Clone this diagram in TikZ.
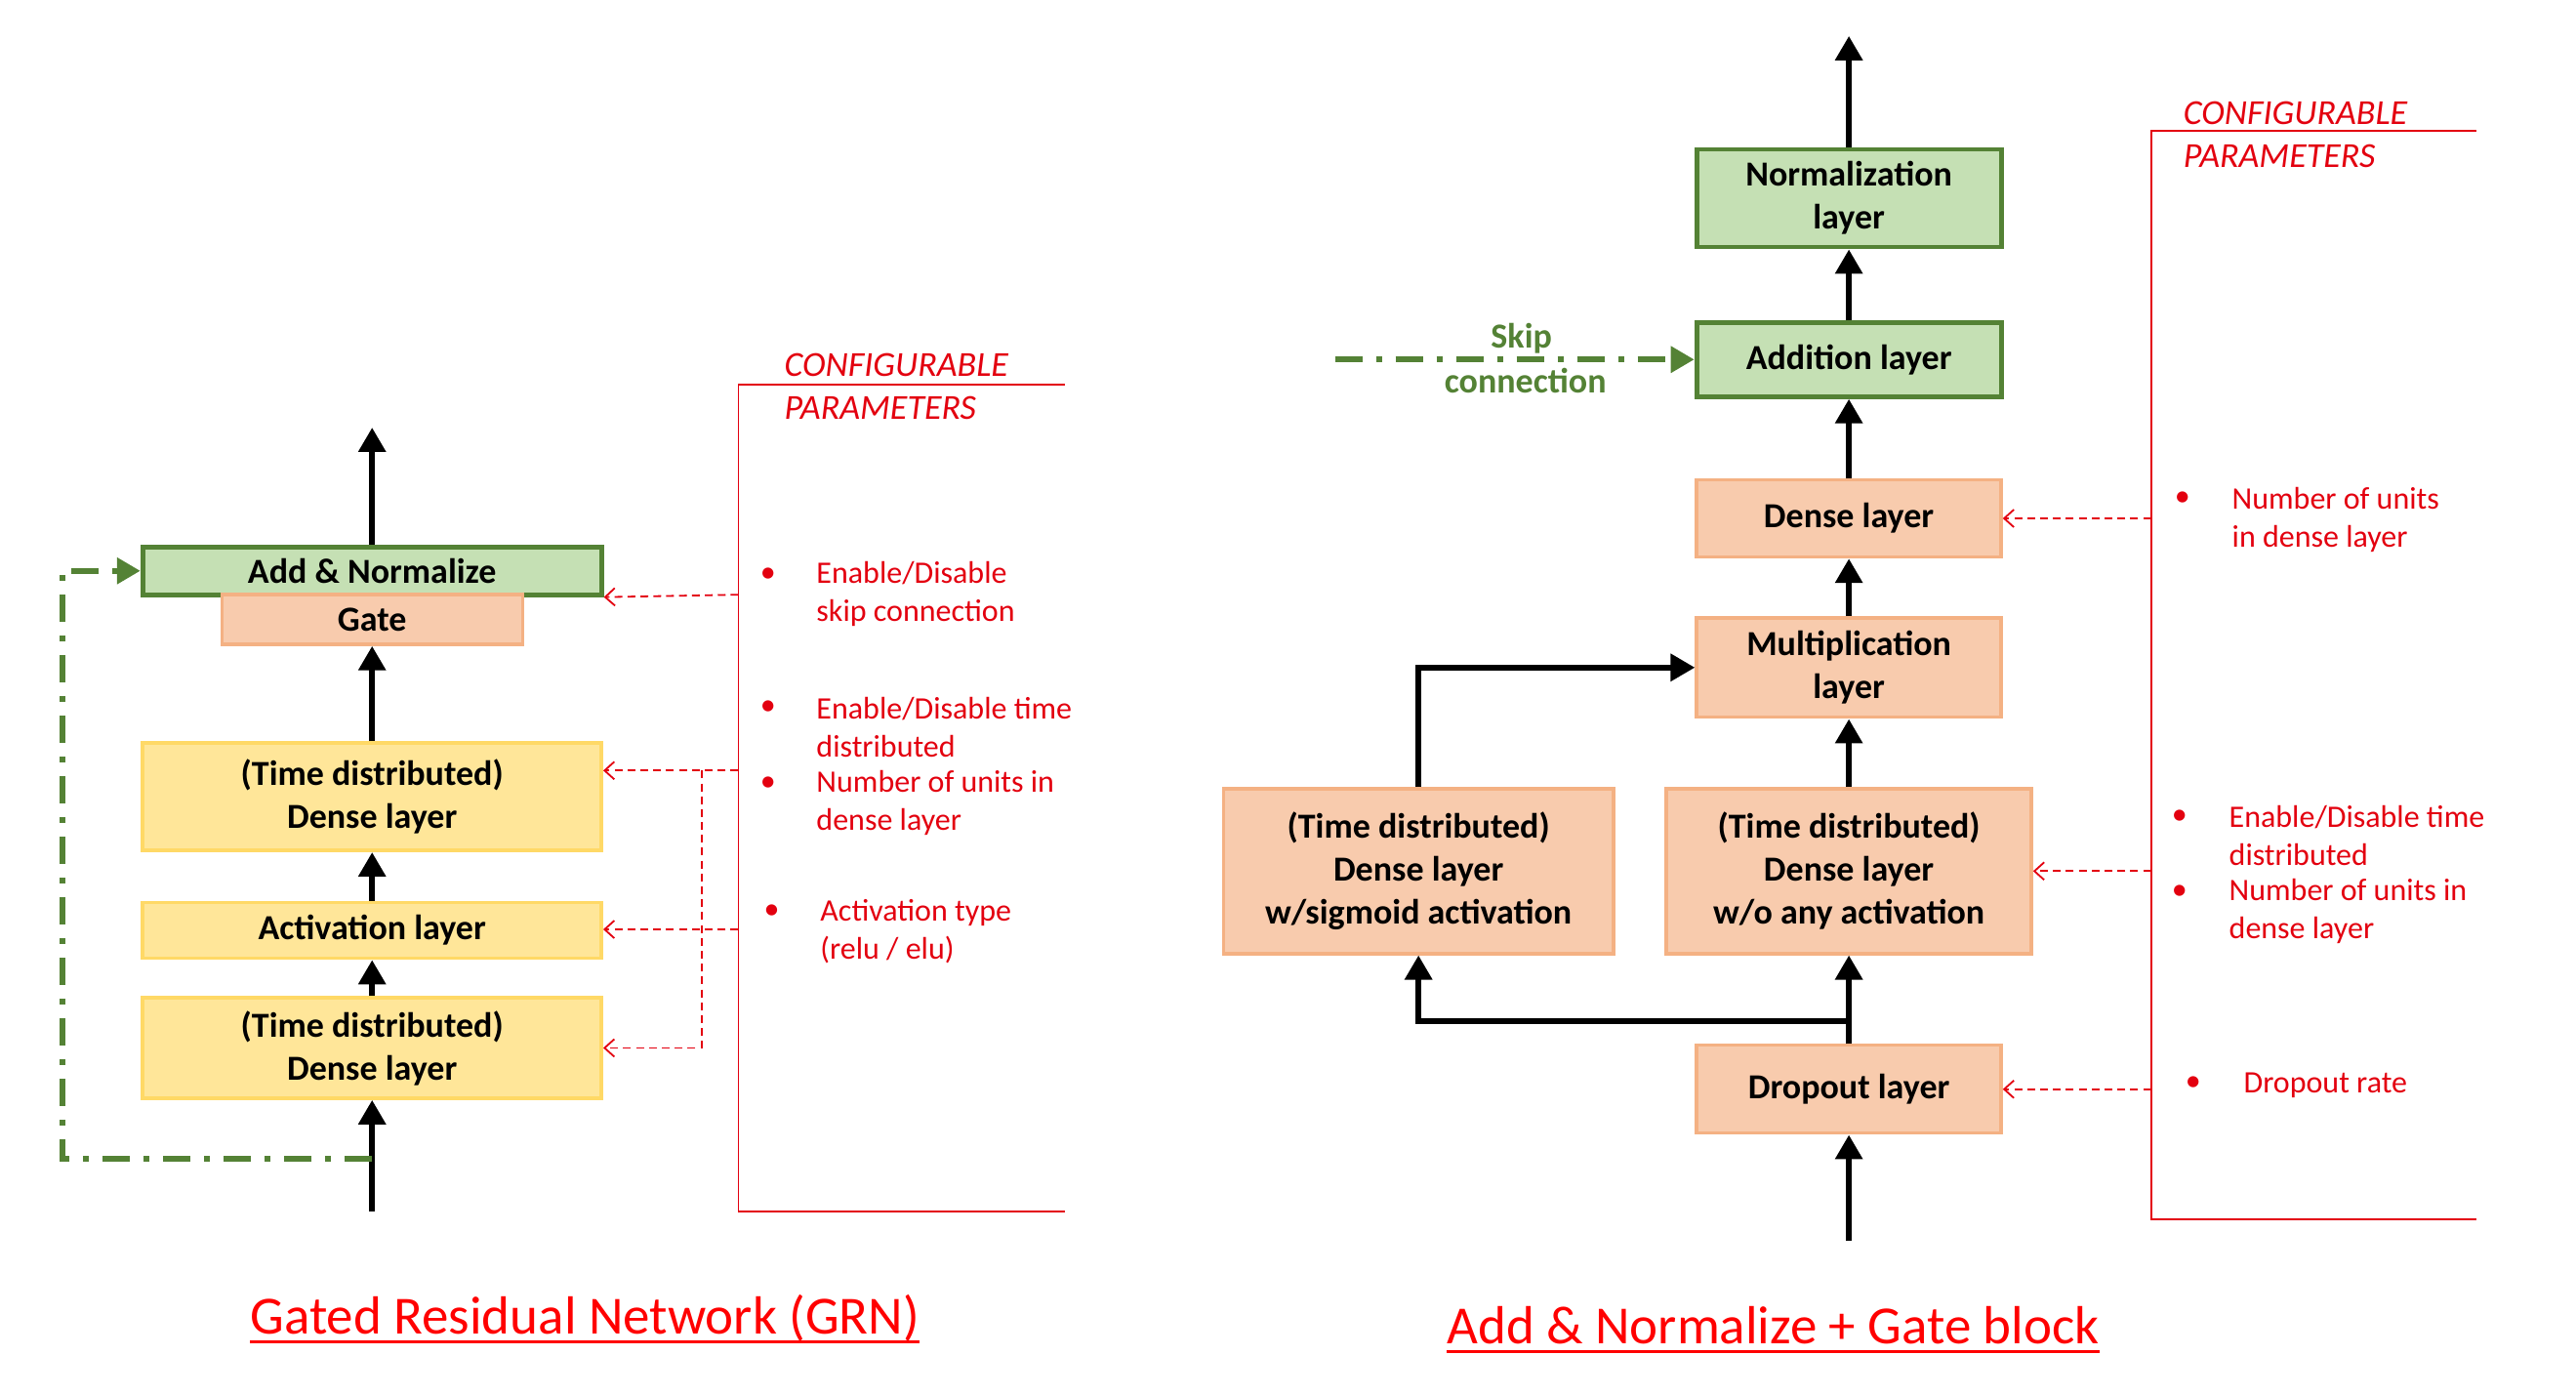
\documentclass[tikz,border=0pt]{standalone}
\usepackage{fontspec}
\setmainfont{Carlito}
\usepackage{tikz}
\usetikzlibrary{arrows.meta}
\definecolor{boxgreen}{HTML}{C5E0B4}
\definecolor{linegreen}{HTML}{548235}
\definecolor{boxorange}{HTML}{F8CBAD}
\definecolor{lineorange}{HTML}{F4B183}
\definecolor{boxyellow}{HTML}{FFE699}
\definecolor{lineyellow}{HTML}{FFD966}
\definecolor{cfgred}{HTML}{E3000F}
\tikzset{
	layer/.style={draw,inner sep=0pt,align=center,font=\fontsize{18}{22}\selectfont\bfseries},
	green layer/.style={layer,fill=boxgreen,draw=linegreen,line width=2.4pt},
	orange layer/.style={layer,fill=boxorange,draw=lineorange,line width=1.7pt},
	yellow layer/.style={layer,fill=boxyellow,draw=lineyellow,line width=1.8pt},
	flow/.style={line width=3.1pt,-{Triangle[length=12.5pt,width=13.5pt]}},
	skip/.style={draw=linegreen,line width=3pt,dash pattern=on 14pt off 7pt on 3pt off 7pt,-{Triangle[length=12pt,width=13pt,fill=linegreen]}},
	param/.style={draw=cfgred,line width=0.9pt,dash pattern=on 4pt off 2.6pt,-{Straight Barb[length=5pt,width=9pt]}},
	frame/.style={draw=cfgred,line width=0.9pt},
	cfgtext/.style={text=cfgred,align=left,anchor=west,inner sep=0pt,font=\fontsize{16}{19.5}\selectfont},
	cfghead/.style={text=cfgred,align=left,anchor=west,inner sep=0pt,font=\fontsize{18}{22}\selectfont\itshape},
	title/.style={text=red,inner sep=0pt,font=\fontsize{27.5}{33}\selectfont},
	title rule/.style={draw=red,line width=1.5pt}
}

\begin{document}
\begin{tikzpicture}[x=0.4977pt,y=-0.4977pt]
	\useasboundingbox (0,0) rectangle (2651.4,1436.6);
	
	%GRN BLOCKS
	\node[green layer,minimum width=235pt,minimum height=24.5pt] (grnAdd) at (383,587.5) {Add \& Normalize};
	\node[orange layer,minimum width=154pt,minimum height=25.5pt] (grnGate) at (383,637.5) {Gate};
	\node[yellow layer,minimum width=235pt,minimum height=55pt] (grnDenseB) at (383,820) {(Time distributed)\\Dense layer};
	\node[yellow layer,minimum width=235pt,minimum height=28.5pt] (grnAct) at (383,957.5) {Activation layer};
	\node[yellow layer,minimum width=235pt,minimum height=51.5pt] (grnDenseA) at (383,1078.5) {(Time distributed)\\Dense layer};
	\coordinate (grnIn) at (383,1247);
	\coordinate (grnOut) at (383,440);
	\coordinate (grnFork) at (383,1193);
	
	\draw[flow] (grnIn)--(grnDenseA);
	\draw[flow] (grnDenseA)--(grnAct);
	\draw[flow] (grnAct)--(grnDenseB);
	\draw[flow] (grnDenseB)--(grnGate);
	\draw[flow] (grnAdd)--(grnOut);
	\draw[skip] (grnFork)--(64,1193)--(64,587.5)--(grnAdd.west);
	
	%GRN PARAMETERS
	\draw[frame] (1096,396)--(760,396)--(760,1247)--(1096,1247);
	\node[cfghead] (grnHead) at (807,398) {CONFIGURABLE\\PARAMETERS};
	\coordinate (grnP1) at (760,612);
	\coordinate (grnP2) at (760,793);
	\coordinate (grnP3) at (760,956.5);
	\coordinate (grnP4) at (722,793);
	\draw[param] (grnP1)--(grnAdd.south east);
	\draw[param] (grnP2)--(grnP2 -| grnDenseB.east);
	\draw[param] (grnP3)--(grnP3 -| grnAct.east);
	\draw[param] (grnP4)--(722,1078.5)--(grnDenseA.east);
	\foreach \y/\t in {611.5/{Enable/Disable\\skip connection},748.5/{Enable/Disable time\\distributed},826.5/{Number of units in\\dense layer}}{
		\node[cfgtext] at (840,\y) {\t};
		\node[cfgtext] at (782,\y-19.5) {•};
	}
	\node[cfgtext] (grnActType) at (844,958.5) {Activation type\\(relu / elu)};
	\node[cfgtext] at (786,939) {•};
	
	%GATE BLOCKS
	\node[green layer,minimum width=156pt,minimum height=50pt] (gNorm) at (1903,204) {Normalization\\layer};
	\node[green layer,minimum width=156pt,minimum height=38pt] (gAdd) at (1903,370) {Addition layer};
	\node[orange layer,minimum width=156pt,minimum height=39.5pt] (gDense) at (1903,533.5) {Dense layer};
	\node[orange layer,minimum width=156pt,minimum height=51pt] (gMult) at (1903,687) {Multiplication\\layer};
	\node[orange layer,minimum width=187pt,minimum height=84.5pt] (gLin) at (1903,896.5) {(Time distributed)\\Dense layer\\w/o any activation};
	\node[orange layer,minimum width=200pt,minimum height=84.5pt] (gSig) at (1460,896.5) {(Time distributed)\\Dense layer\\w/sigmoid activation};
	\node[orange layer,minimum width=156pt,minimum height=45pt] (gDrop) at (1903,1121) {Dropout layer};
	\coordinate (gIn) at (1903,1277);
	\coordinate (gOut) at (1903,37);
	\coordinate (gFork) at (1903,1051);
	\coordinate (gSkip) at (1374,370);
	
	\draw[flow] (gIn)--(gDrop);
	\draw[line width=3.1pt] (gDrop.north)--(gFork);
	\draw[flow] (gFork)--(gLin);
	\draw[flow] (gFork)-|(gSig);
	\draw[flow] (gSig.north)|-(gMult.west);
	\draw[flow] (gLin)--(gMult);
	\draw[flow] (gMult)--(gDense);
	\draw[flow] (gDense)--(gAdd);
	\draw[flow] (gAdd)--(gNorm);
	\draw[flow] (gNorm)--(gOut);
	\draw[skip] (gSkip)--(gAdd.west);
	\node[text=linegreen,font=\fontsize{18}{22}\selectfont\bfseries] (gSkipA) at (1566,348) {Skip};
	\node[text=linegreen,font=\fontsize{18}{22}\selectfont\bfseries] (gSkipB) at (1570,392) {connection};
	
	%GATE PARAMETERS
	\draw[frame] (2549,135)--(2214,135)--(2214,1255)--(2549,1255);
	\node[cfghead] (gHead) at (2247,139) {CONFIGURABLE\\PARAMETERS};
	\coordinate (gP1) at (2214,533.5);
	\coordinate (gP2) at (2214,896.5);
	\coordinate (gP3) at (2214,1121);
	\draw[param] (gP1)--(gDense.east);
	\draw[param] (gP2)--(gLin.east);
	\draw[param] (gP3)--(gDrop.east);
	\node[cfgtext] (gUnits) at (2297,534.5) {Number of units\\in dense layer};
	\node[cfgtext] at (2238,514) {•};
	\foreach \y/\t in {860.5/{Enable/Disable time\\distributed},938/{Number of units in\\dense layer}}{
		\node[cfgtext] at (2294,\y) {\t};
		\node[cfgtext] at (2235,\y-19.5) {•};
	}
	\node[cfgtext] (gRate) at (2309,1117) {Dropout rate};
	\node[cfgtext] at (2249,1115) {•};
	
	%TITLES
	\node[title] (grnTitle) at (602,1357) {Gated Residual Network (GRN)};
	\node[title] (gTitle) at (1825,1364) {Add \& Normalize + Gate block};
	\draw[title rule] ([yshift=-4pt]grnTitle.base west)--([yshift=-4pt]grnTitle.base east);
	\draw[title rule] ([yshift=-4pt]gTitle.base west)--([yshift=-4pt]gTitle.base east);
\end{tikzpicture}
\end{document}
